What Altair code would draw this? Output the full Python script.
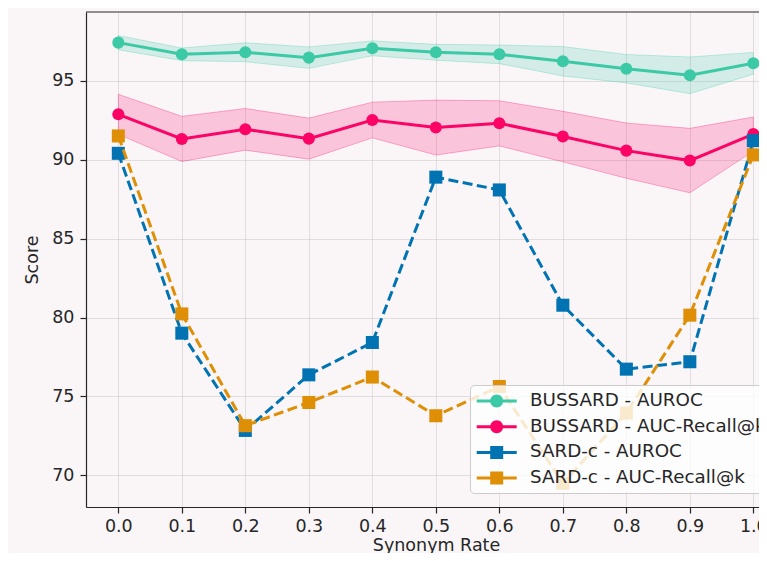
import altair as alt
import pandas as pd

rates = [0.0, 0.1, 0.2, 0.3, 0.4, 0.5, 0.6, 0.7, 0.8, 0.9, 1.0]
series_names = ["BUSSARD - AUROC", "BUSSARD - AUC-Recall@k", "SARD-c - AUROC", "SARD-c - AUC-Recall@k"]
series_colors = ["#3cc9a5", "#fc0366", "#0173b2", "#de8f05"]

bussard_auroc = [97.41, 96.67, 96.80, 96.46, 97.05, 96.80, 96.67, 96.23, 95.76, 95.34, 96.10]
bussard_auroc_std = [0.45, 0.40, 0.60, 0.68, 0.47, 0.50, 0.59, 0.93, 0.90, 1.16, 0.69]
bussard_recall = [92.87, 91.31, 91.92, 91.33, 92.51, 92.03, 92.30, 91.46, 90.57, 89.94, 91.62]
bussard_recall_std = [1.27, 1.43, 1.32, 1.30, 1.13, 1.74, 1.43, 1.60, 1.75, 2.04, 1.08]
sard_auroc = [90.40, 79.01, 72.85, 76.37, 78.42, 88.89, 88.08, 80.78, 76.73, 77.20, 91.20]
sard_recall = [91.50, 80.23, 73.15, 74.62, 76.23, 73.78, 75.63, 69.50, 73.95, 80.15, 90.30]

series_values = [bussard_auroc, bussard_recall, sard_auroc, sard_recall]
series_stds = [bussard_auroc_std, bussard_recall_std, None, None]

rows = []
for name, vals, stds in zip(series_names, series_values, series_stds):
    for i, r in enumerate(rates):
        row = {"series": name, "rate": r, "value": vals[i]}
        if stds is not None:
            row["lo"] = vals[i] - stds[i]
            row["hi"] = vals[i] + stds[i]
        rows.append(row)
df = pd.DataFrame(rows)

W, H = 673, 495
FONT = "DejaVu Sans"
TXT = "#262626"
XDOM = [-0.0509, 1.0089]
YDOM = [68.0, 99.35]

x_enc = alt.X("rate:Q",
              scale=alt.Scale(domain=XDOM, nice=False, zero=False),
              axis=alt.Axis(values=rates, format=".1f", title="Synonym Rate", titleX=350,
                            titlePadding=2, labelPadding=4))
y_enc = alt.Y("value:Q",
              scale=alt.Scale(domain=YDOM, nice=False, zero=False),
              axis=alt.Axis(values=[70, 75, 80, 85, 90, 95], title="Score", labelPadding=6,
                            titlePadding=10))

base = alt.Chart(df)
layers = []

# confidence bands
for name, col, stds in zip(series_names, series_colors, series_stds):
    if stds is None:
        continue
    layers.append(
        base.transform_filter(alt.datum.series == name).mark_area(
            color=col, fillOpacity=0.2, stroke=col, strokeOpacity=0.3, strokeWidth=1, clip=True
        ).encode(x=x_enc, y=alt.Y("lo:Q", scale=alt.Scale(domain=YDOM, nice=False, zero=False)),
                 y2="hi:Q")
    )

# lines and markers
for name, col, stds in zip(series_names, series_colors, series_stds):
    dashed = stds is None
    sub = base.transform_filter(alt.datum.series == name)
    if dashed:
        line = sub.mark_line(color=col, strokeWidth=3, strokeDash=[10, 4.5], clip=True)
        pts = sub.mark_point(shape="square", filled=True, size=170, opacity=1, color=col, clip=True)
    else:
        line = sub.mark_line(color=col, strokeWidth=3, clip=True)
        pts = sub.mark_point(shape="circle", filled=True, size=145, opacity=1, color=col, clip=True)
    layers.append(line.encode(x=x_enc, y=y_enc))
    layers.append(pts.encode(x=x_enc, y=y_enc))

# legend (line + marker glyphs)
circ_path = "M-2,-0.15H2V0.15H-2Z M0.65,0A0.65,0.65,0,1,1,-0.65,0A0.65,0.65,0,1,1,0.65,0Z"
sq_path = "M-2,-0.15H2V0.15H-2Z M-0.65,-0.65H0.65V0.65H-0.65Z"
legend_def = alt.Legend(title=None)
layers.append(
    base.transform_filter("false").mark_point(filled=True, opacity=1).encode(
        x=x_enc, y=y_enc,
        color=alt.Color("series:N", scale=alt.Scale(domain=series_names, range=series_colors),
                        legend=legend_def),
        shape=alt.Shape("series:N",
                        scale=alt.Scale(domain=series_names,
                                        range=[circ_path, circ_path, sq_path, sq_path]),
                        legend=legend_def),
    )
)

# top spine
layers.append(
    alt.Chart(pd.DataFrame({"a": [0]})).mark_rule(color=TXT, strokeWidth=1.2)
    .encode(y=alt.value(0), x=alt.value(0), x2=alt.value(W))
)

chart = alt.layer(*layers).properties(
    width=W, height=H,
    autosize=alt.AutoSizeParams(type="none"),
    padding={"left": 78, "top": 4, "right": 0, "bottom": 46},
    background="#faf6f8",
).configure_view(
    stroke=None, fill="#faf6f8"
).configure_axis(
    labelFont=FONT, labelFontSize=17.5, labelColor=TXT,
    titleFont=FONT, titleFontSize=17.5, titleColor=TXT, titleFontWeight="normal",
    domainColor=TXT, domainWidth=1.2, tickColor=TXT, tickWidth=1.2, tickSize=6,
    gridColor="#b0b0b0", gridOpacity=0.35, gridWidth=1,
).configure_legend(
    orient="none", legendX=384, legendY=373,
    labelFont=FONT, labelFontSize=18.3, labelColor=TXT,
    symbolSize=400, symbolStrokeWidth=0, symbolOffset=10.7, labelOffset=23.3,
    padding=6, rowPadding=6.7,
    fillColor="rgba(255,255,255,0.8)", strokeColor="#cccccc", cornerRadius=4,
    labelLimit=400,
)

chart.save("out.html", embed_options={"renderer": "svg", "actions": False})
